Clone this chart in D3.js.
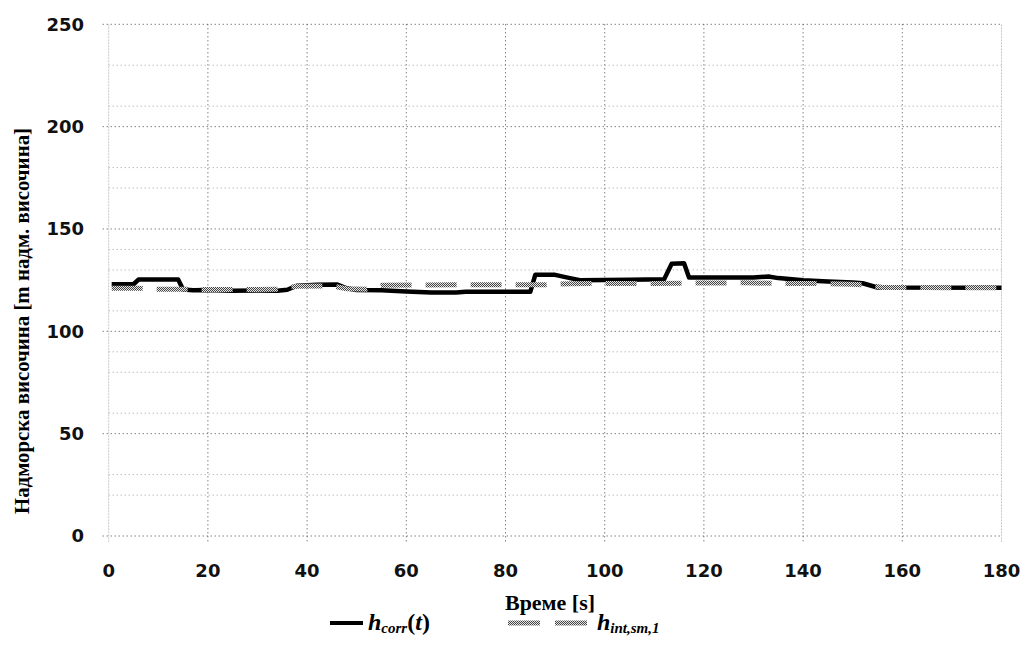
<!DOCTYPE html>
<html>
<head>
<meta charset="utf-8">
<script src="https://cdn.jsdelivr.net/npm/d3@7"></script>
<style>
	body { margin: 0; background: #fff; }
	svg { display: block; }
</style>
</head>
<body>
<div id="chart"></div>
<script>
	'use strict';

	// данни, отчетени от графиката: [време s, височина m]
	var hCorr = [
		[0.6,123],[5,123],[6,125.3],[14,125.3],[15,120.4],[17,120.1],[20,120.2],[25,119.8],
		[30,120],[34,119.8],[36,120.3],[38,122.3],[42,122.8],[46,122.9],[48,121],[50,120.2],
		[55,120.1],[60,119.5],[65,119],[70,119],[72,119.3],[85,119.3],[86,127.6],[90,127.6],
		[93,126],[95,125],[105,125.2],[112,125.5],[113.5,133],[116,133.2],[117,126.3],[130,126.3],
		[133,126.8],[135,126],[140,125],[145,124.3],[150,123.8],[152,123.5],[155,121.4],[180,121.3]
	];
	var hIntSm = [
		[0.6,121],[6,121],[9,120.6],[16,120.5],[25,120.4],[34,120.5],[36,121.5],[38,122],
		[45,122.2],[48,120.8],[52,120.6],[55,122.5],[62,122.6],[70,122.8],[85,122.8],[88,122.7],
		[93,123.3],[110,123.4],[120,123.6],[128,123.7],[136,123.4],[145,123.3],[150,123],
		[154,122.4],[156,121.4],[180,121.3]
	];
	var xTicks = [0,20,40,60,80,100,120,140,160,180];
	var yTicks = [0,50,100,150,200,250];
	var yMinor = [20,30,60,80,90,110,130,140,170,180,210,230];

	(function() {
		var W = 1029, H = 662;
		var pLeft = 108.7, pRight = 1001.5, pTop = 24.3, pBottom = 536;

		var x = d3.scaleLinear().domain([0,180]).range([pLeft,pRight]);
		var y = d3.scaleLinear().domain([0,250]).range([pBottom,pTop]);

		var svg = d3.select('#chart').append('svg')
			.attr('width',W).attr('height',H);

		// шахматна текстура за сивата линия
		var pat = svg.append('defs').append('pattern')
			.attr('id','chk').attr('width',2).attr('height',2)
			.attr('patternUnits','userSpaceOnUse');
		pat.append('rect').attr('width',2).attr('height',2).attr('fill','#e6e6e6');
		pat.append('rect').attr('width',1).attr('height',1).attr('fill','#444');
		pat.append('rect').attr('x',1).attr('y',1).attr('width',1).attr('height',1).attr('fill','#444');

		// второстепенна мрежа
		svg.append('g').selectAll('line').data(yMinor).enter().append('line')
			.attr('x1',pLeft).attr('x2',pRight)
			.attr('y1',function(d){ return y(d); }).attr('y2',function(d){ return y(d); })
			.attr('stroke','#a0a0a0').attr('stroke-width',1).attr('stroke-dasharray','1,3');

		// ос Y и дясна рамка
		svg.append('g').selectAll('line').data([0,180]).enter().append('line')
			.attr('x1',function(d){ return x(d); }).attr('x2',function(d){ return x(d); })
			.attr('y1',pTop).attr('y2',pBottom+6)
			.attr('stroke','#c8c8c8').attr('stroke-width',1).attr('stroke-dasharray','2,1');

		// основна мрежа
		svg.append('g').selectAll('line').data(yTicks).enter().append('line')
			.attr('x1',pLeft-6).attr('x2',pRight)
			.attr('y1',function(d){ return y(d); }).attr('y2',function(d){ return y(d); })
			.attr('stroke','#4a4a4a').attr('stroke-width',1).attr('stroke-dasharray','1,3');
		svg.append('g').selectAll('line').data(xTicks.slice(1,-1)).enter().append('line')
			.attr('x1',function(d){ return x(d); }).attr('x2',function(d){ return x(d); })
			.attr('y1',pTop).attr('y2',pBottom+7)
			.attr('stroke','#4a4a4a').attr('stroke-width',1).attr('stroke-dasharray','1,3');

		// етикети
		svg.append('g').selectAll('text').data(yTicks).enter().append('text')
			.attr('x',84).attr('y',function(d){ return y(d); })
			.attr('dy','0.36em').attr('text-anchor','end')
			.attr('font-family','DejaVu Sans').attr('font-weight','bold').attr('font-size',18)
			.attr('fill','#111')
			.text(function(d){ return d; });
		svg.append('g').selectAll('text').data(xTicks).enter().append('text')
			.attr('x',function(d){ return x(d); }).attr('y',577)
			.attr('text-anchor','middle')
			.attr('font-family','DejaVu Sans').attr('font-weight','bold').attr('font-size',18)
			.attr('fill','#111')
			.text(function(d){ return d; });

		svg.append('text')
			.attr('x',550).attr('y',610).attr('text-anchor','middle')
			.attr('font-family','Liberation Serif').attr('font-weight','bold').attr('font-size',21)
			.attr('textLength',90).attr('lengthAdjust','spacingAndGlyphs')
			.text('Време [s]');
		svg.append('text')
			.attr('transform','translate(29,321) rotate(-90)').attr('text-anchor','middle')
			.attr('font-family','Liberation Serif').attr('font-weight','bold').attr('font-size',20)
			.attr('textLength',386).attr('lengthAdjust','spacingAndGlyphs')
			.text('Надморска височина [m надм. височина]');

		// линии
		var line = d3.line()
			.x(function(d){ return x(d[0]); })
			.y(function(d){ return y(d[1]); });

		svg.append('path').datum(hCorr)
			.attr('d',line).attr('fill','none')
			.attr('stroke','#000').attr('stroke-width',4.5)
			.attr('stroke-linejoin','round');
		svg.append('path').datum(hIntSm)
			.attr('d',line).attr('fill','none')
			.attr('stroke','url(#chk)').attr('stroke-width',5)
			.attr('stroke-dasharray','31,14');

		// легенда
		var lg = svg.append('g').attr('font-family','Liberation Serif').attr('font-weight','bold');
		lg.append('line').attr('x1',330).attr('x2',363).attr('y1',623).attr('y2',623)
			.attr('stroke','#000').attr('stroke-width',4);
		var t1 = lg.append('text').attr('x',368).attr('y',630).attr('font-size',24);
		t1.append('tspan').attr('font-style','italic').text('h');
		t1.append('tspan').attr('font-style','italic').attr('font-size',15).attr('dy',3).text('corr');
		t1.append('tspan').attr('dy',-3).text('(');
		t1.append('tspan').attr('font-style','italic').text('t');
		t1.append('tspan').text(')');

		lg.append('line').attr('x1',508).attr('x2',587).attr('y1',623).attr('y2',623)
			.attr('stroke','url(#chk)').attr('stroke-width',5).attr('stroke-dasharray','32,15');
		var t2 = lg.append('text').attr('x',597).attr('y',630).attr('font-size',24);
		t2.append('tspan').attr('font-style','italic').text('h');
		t2.append('tspan').attr('font-style','italic').attr('font-size',15).attr('dy',3).text('int,sm,1');
	})();
</script>
</body>
</html>
